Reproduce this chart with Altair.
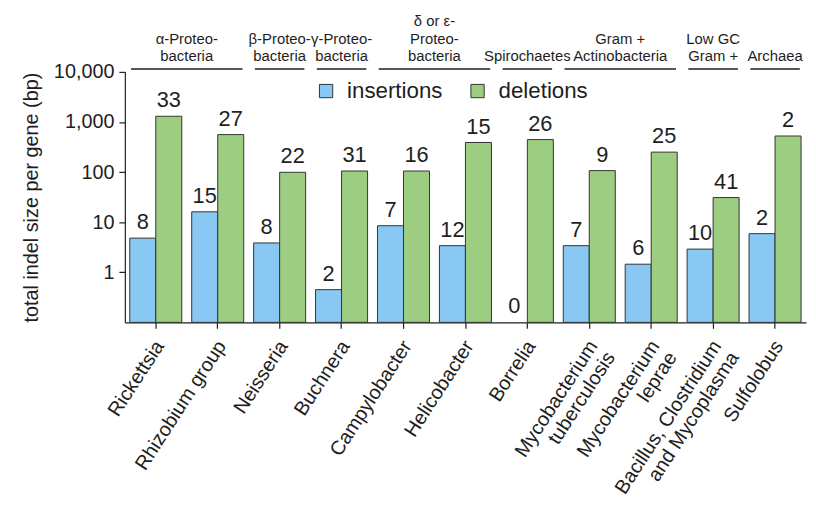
import altair as alt
import pandas as pd

# ---- data ----
categories = [
    "Rickettsia", "Rhizobium group", "Neisseria", "Buchnera", "Campylobacter",
    "Helicobacter", "Borrelia", "Mycobacterium\ntuberculosis", "Mycobacterium\nleprae",
    "Bacillus, Clostridium\nand Mycoplasma", "Sulfolobus",
]
insertions = [4.8, 16.1, 3.85, 0.45, 8.5, 3.4, 0, 3.4, 1.45, 2.9, 5.9]
deletions = [1300, 560, 99, 105, 105, 390, 445, 107, 250, 31, 525]
insertion_counts = [8, 15, 8, 2, 7, 12, 0, 7, 6, 10, 2]
deletion_counts = [33, 27, 22, 31, 16, 15, 26, 9, 25, 41, 2]

group_labels = [
    "α-Proteo-\nbacteria", "β-Proteo-\nbacteria", "γ-Proteo-\nbacteria",
    "δ or ε-\nProteo-\nbacteria", "Spirochaetes", "Gram +\nActinobacteria",
    "Low GC\nGram +", "Archaea",
]
group_first = ["Rickettsia", "Neisseria", "Buchnera", "Campylobacter", "Borrelia",
               "Mycobacterium\ntuberculosis", "Bacillus, Clostridium\nand Mycoplasma", "Sulfolobus"]
group_size = [2, 1, 1, 2, 1, 2, 1, 1]

series = ["insertions", "deletions"]
colors = ["#88C8F2", "#9CCD80"]

rows = []
for i, c in enumerate(categories):
    rows.append({"category": c, "type": "insertions", "value": insertions[i], "count": insertion_counts[i]})
    rows.append({"category": c, "type": "deletions", "value": deletions[i], "count": deletion_counts[i]})
df = pd.DataFrame(rows)

gdf = pd.DataFrame({
    "label": group_labels,
    "start": [categories.index(g) for g in group_first],
    "n": group_size,
    "lines": [g.count("\n") + 1 for g in group_labels],
})

FONT = "Liberation Sans"
INK = "#1e1e1e"
LH = 17.5

yscale = alt.Scale(type="log", domain=[0.1, 10000], nice=False)
ytitle = "total indel size per gene (bp)"

base = alt.Chart(df).encode(
    x=alt.X("category:N", sort=categories,
            scale=alt.Scale(paddingInner=0.16, paddingOuter=0.08),
            axis=alt.Axis(title=None, labelAngle=-57, labelAlign="right", labelBaseline="middle",
                          labelExpr="split(datum.label, '\\n')", labelFontSize=20,
                          labelPadding=14, labelOffset=4, tickSize=6, labelLineHeight=21,
                          labelLimit=400)),
    xOffset=alt.XOffset("type:N", sort=series, scale=alt.Scale(paddingInner=0, paddingOuter=0)),
)

bars = base.mark_bar(stroke="#333333", strokeWidth=1).encode(
    y=alt.Y("value:Q", scale=yscale, title=ytitle,
            axis=alt.Axis(values=[1, 10, 100, 1000, 10000], format=",", grid=False,
                          tickSize=6, labelPadding=5, labelFontSize=20,
                          titleFontSize=20, titleFontWeight="normal", titlePadding=12)),
    y2=alt.datum(0.1),
    color=alt.Color("type:N", sort=series, scale=alt.Scale(domain=series, range=colors),
                    legend=alt.Legend(orient="none", legendX=192, legendY=8, direction="horizontal",
                                      title=None, symbolType="square", symbolSize=180,
                                      symbolStrokeColor="#333333", symbolStrokeWidth=1,
                                      labelFontSize=22.5, labelOffset=10, columnPadding=24,
                                      padding=0, labelFont=FONT, labelColor=INK)),
).transform_filter("datum.value > 0")

labels = base.mark_text(baseline="bottom", dy=-4, fontSize=22, font=FONT, color=INK).transform_calculate(
    label_y="datum.value > 0 ? datum.value : 0.1"
).encode(
    y=alt.Y("label_y:Q", scale=yscale, title=ytitle),
    text="count:N",
)

main = alt.layer(bars, labels)

hx = alt.Scale(domain=[0, 11], nice=False, zero=False)
header_rules = alt.Chart(gdf).mark_rule(color=INK, strokeWidth=1.5).transform_calculate(
    x0="datum.start + 0.1", x1="datum.start + datum.n - 0.1"
).encode(
    x=alt.X("x0:Q", scale=hx, axis=None),
    x2="x1:Q",
    y=alt.value(-3),
)

header_layers = [header_rules]
for nl in sorted(set(gdf["lines"])):
    header_layers.append(
        alt.Chart(gdf).mark_text(
            fontSize=15, font=FONT, color=INK, baseline="alphabetic", lineBreak="\n",
            lineHeight=LH, dy=-(nl - 1) * LH
        ).transform_filter(f"datum.lines == {nl}").transform_calculate(
            xm="datum.start + datum.n / 2"
        ).encode(
            x=alt.X("xm:Q", scale=hx, axis=None),
            y=alt.value(-11),
            text="label:N",
        )
    )
headers = alt.layer(*header_layers)

chart = alt.layer(main, headers).resolve_scale(x="independent").properties(
    width=688, height=253, autosize="none",
    padding={"left": 118, "top": 62, "right": 2, "bottom": 188},
).configure_view(stroke=None).configure_axis(
    labelFont=FONT, titleFont=FONT, labelColor=INK, titleColor=INK,
    domainColor=INK, tickColor=INK, domainWidth=1.2, tickWidth=1.2,
)

chart.save("out.html", embed_options={"renderer": "svg", "actions": False})
